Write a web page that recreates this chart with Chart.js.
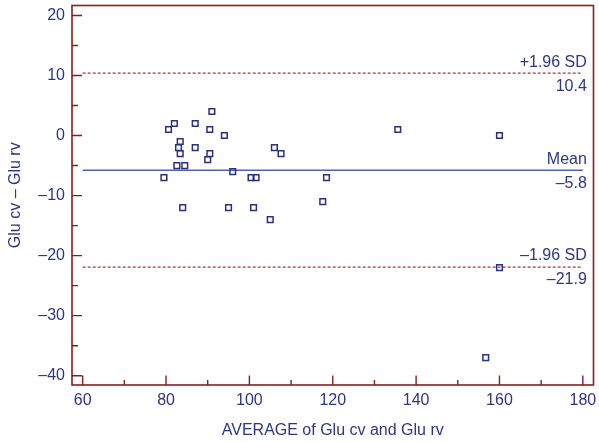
<!DOCTYPE html>
<html>
<head>
<meta charset="utf-8">
<script src="https://cdn.jsdelivr.net/npm/chart.js@4.4.1/dist/chart.umd.min.js"></script>
<style>
  html, body { margin: 0; padding: 0; background: #ffffff; }
  #wrap { width: 599px; height: 442px; position: relative; }
</style>
</head>
<body>
<div id="wrap"><canvas id="c" width="599" height="442"></canvas></div>
<script>
// Average of the two glucose measurements (x) and their difference (y)
const avgValues = [91, 82, 80.6, 87, 90.5, 94, 83.4, 83, 87, 83.4, 90.5, 90, 82.6, 84.5,
  106, 107.6, 96, 79.5, 100.4, 101.6, 84, 95, 101, 105, 117.6, 118.5, 135.6, 160, 160, 156.7];
const diffValues = [4, 2, 1, 2, 1, 0, -1, -2, -2, -3, -3, -4, -5, -5,
  -2, -3, -6, -7, -7, -7, -12, -12, -12, -14, -11, -7, 1, 0, -22, -37];

// Bland-Altman limits
const meanDiff = -5.8;
const upperLimit = 10.4;
const lowerLimit = -21.9;
const limitLabels = ['+1.96 SD', 'Mean', '\u20131.96 SD'];

// Axis ticks
const xTicks = [60, 80, 100, 120, 140, 160, 180];
const xMinorTicks = [70, 90, 110, 130, 150, 170];
const yTicks = [-40, -30, -20, -10, 0, 10, 20];
const yMinorTicks = [-35, -25, -15, -5, 5, 15];

const navy = '#2f3585';
const frameRed = '#8b1c1c';
const dashRed = '#a83838';
const meanBlue = '#5560ad';
const fontFamily = '"Liberation Sans", Arial, sans-serif';
const fontSize = 16;

const fmt = v => String(v).replace('-', '\u2013');

const points = avgValues.map((x, i) => ({ x: x, y: diffValues[i] }));
const xEnds = [xTicks[0], xTicks[xTicks.length - 1]];
const hLine = y => xEnds.map(x => ({ x: x, y: y }));

const framePlugin = {
  id: 'frameAndTicks',
  afterDatasetsDraw(chart) {
    const ctx = chart.ctx;
    const a = chart.chartArea;
    const xs = chart.scales.x, ys = chart.scales.y;
    ctx.save();
    ctx.strokeStyle = frameRed;
    ctx.lineWidth = 1.6;
    ctx.strokeRect(a.left, a.top, a.right - a.left, a.bottom - a.top);
    ctx.lineWidth = 1.4;
    ctx.beginPath();
    xTicks.forEach(v => { const p = xs.getPixelForValue(v); ctx.moveTo(p, a.bottom); ctx.lineTo(p, a.bottom - 9.5); });
    xMinorTicks.forEach(v => { const p = xs.getPixelForValue(v); ctx.moveTo(p, a.bottom); ctx.lineTo(p, a.bottom - 5); });
    yTicks.forEach(v => { const p = ys.getPixelForValue(v); ctx.moveTo(a.left, p); ctx.lineTo(a.left + 10, p); });
    yMinorTicks.forEach(v => { const p = ys.getPixelForValue(v); ctx.moveTo(a.left, p); ctx.lineTo(a.left + 6, p); });
    ctx.stroke();

    // limit labels, right-aligned at the end of each line
    ctx.fillStyle = navy;
    ctx.font = fontSize + 'px ' + fontFamily;
    ctx.textAlign = 'right';
    ctx.textBaseline = 'middle';
    const xr = xs.getPixelForValue(xEnds[1]) + 4;
    [[upperLimit, limitLabels[0]], [meanDiff, limitLabels[1]], [lowerLimit, limitLabels[2]]].forEach(([v, name]) => {
      const p = ys.getPixelForValue(v);
      ctx.fillText(name, xr, p - 11);
      ctx.fillText(fmt(v.toFixed(1)), xr, p + 13);
    });
    ctx.restore();
  }
};

new Chart(document.getElementById('c'), {
  type: 'scatter',
  data: {
    datasets: [
      {
        data: points,
        pointStyle: 'rect',
        pointRadius: 4,
        pointHoverRadius: 4,
        pointBorderWidth: 1.5,
        borderColor: '#2b2f80',
        backgroundColor: 'rgba(255,255,255,0)',
        order: 1
      },
      {
        type: 'line',
        data: hLine(upperLimit),
        borderColor: dashRed,
        borderWidth: 1.3,
        borderDash: [3, 2],
        pointRadius: 0,
        order: 2
      },
      {
        type: 'line',
        data: hLine(lowerLimit),
        borderColor: dashRed,
        borderWidth: 1.3,
        borderDash: [3, 2],
        pointRadius: 0,
        order: 2
      },
      {
        type: 'line',
        data: hLine(meanDiff),
        borderColor: meanBlue,
        borderWidth: 1.5,
        pointRadius: 0,
        order: 2
      }
    ]
  },
  options: {
    responsive: false,
    animation: false,
    events: [],
    layout: { padding: { left: 0, right: 4, top: 5, bottom: 0 } },
    plugins: { legend: { display: false }, tooltip: { enabled: false } },
    scales: {
      x: {
        type: 'linear',
        min: 57.44,
        max: 182.56,
        afterBuildTicks: s => { s.ticks = xTicks.map(v => ({ value: v })); },
        afterFit: s => { s.height = 57; s.paddingLeft = 0; s.paddingRight = 0; },
        grid: { display: false, drawTicks: false, tickLength: 0 },
        border: { display: false },
        ticks: {
          color: navy,
          font: { family: fontFamily, size: fontSize },
          padding: 6,
          maxRotation: 0,
          autoSkip: false,
          callback: v => fmt(v)
        },
        title: {
          display: true,
          text: 'AVERAGE of Glu cv and Glu rv',
          color: navy,
          font: { family: fontFamily, size: fontSize },
          padding: { top: 0, bottom: 1.5 }
        }
      },
      y: {
        type: 'linear',
        min: -41.55,
        max: 21.66,
        afterBuildTicks: s => { s.ticks = yTicks.map(v => ({ value: v })); },
        afterFit: s => { s.width = 72; s.paddingTop = 0; s.paddingBottom = 0; },
        grid: { display: false, drawTicks: false, tickLength: 0 },
        border: { display: false },
        ticks: {
          color: navy,
          font: { family: fontFamily, size: fontSize },
          padding: 7,
          autoSkip: false,
          callback: v => fmt(v)
        },
        title: {
          display: true,
          text: 'Glu cv \u2013 Glu rv',
          color: navy,
          font: { family: fontFamily, size: fontSize },
          padding: { top: 5.5, bottom: 0 }
        }
      }
    }
  },
  plugins: [framePlugin]
});
</script>
</body>
</html>
